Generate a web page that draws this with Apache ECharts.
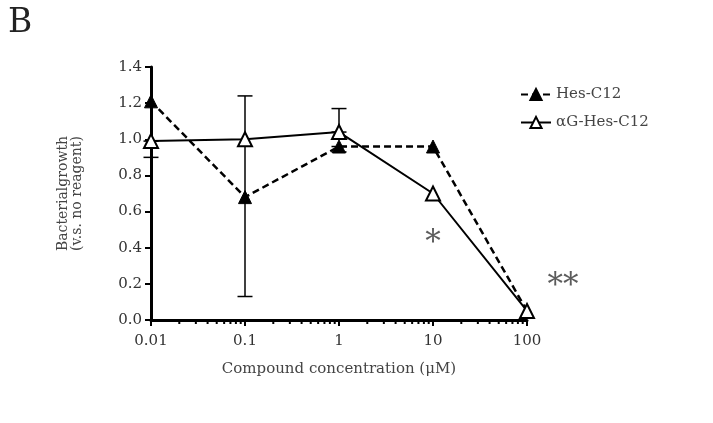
<!DOCTYPE html>
<html>
<head>
<meta charset="utf-8">
<script src="https://cdn.jsdelivr.net/npm/echarts@6/dist/echarts.min.js"></script>
<style>html,body{margin:0;padding:0;background:#fff;}#c{width:713px;height:423px;}</style>
</head>
<body>
<div id="c"></div>
<script>
var concentrations = [0.01, 0.1, 1, 10, 100];
var hesValues = [1.21, 0.68, 0.96, 0.96, 0.05];
var agHesValues = [0.99, 1.00, 1.04, 0.70, 0.05];
// error bars: [x, low, high]
var hesErrors = [[0.1, 0.13, 1.24], [1, 0.93, 0.96]];
var agHesErrors = [[0.01, 0.90, 0.99], [1, 1.04, 1.17]];
var significance = [[10, 0.42, '*'], [100, 0.185, '**']];
var minorTickValues = [];
[0.01, 0.1, 1, 10].forEach(function (d) { for (var k = 2; k <= 9; k++) minorTickValues.push(+(d * k).toPrecision(3)); });

var FONT = 'DejaVu Serif';
var chart = echarts.init(document.getElementById('c'));

function errorRender(params, api) {
  var x = api.value(0), lo = api.value(1), hi = api.value(2);
  var pLo = api.coord([x, lo]), pHi = api.coord([x, hi]);
  var hw = 7.5;
  var st = { stroke: '#000', lineWidth: 1.5 };
  return { type: 'group', children: [
    { type: 'line', shape: { x1: pLo[0], y1: pLo[1], x2: pHi[0], y2: pHi[1] }, style: st },
    { type: 'line', shape: { x1: pLo[0] - hw, y1: pLo[1], x2: pLo[0] + hw, y2: pLo[1] }, style: st },
    { type: 'line', shape: { x1: pHi[0] - hw, y1: pHi[1], x2: pHi[0] + hw, y2: pHi[1] }, style: st }
  ]};
}
function minorRender(params, api) {
  var p = api.coord([api.value(0), 0]);
  return { type: 'line', shape: { x1: p[0], y1: p[1], x2: p[0], y2: p[1] + 4 }, style: { stroke: '#000', lineWidth: 2 } };
}

chart.setOption({
  animation: false,
  backgroundColor: '#fff',
  graphic: [{ type: 'text', left: 8, top: 7, style: { text: 'B', font: '33px "DejaVu Serif"', fill: '#222' } }],
  grid: { left: 151, right: 186, top: 67, bottom: 103, containLabel: false },
  legend: {
    left: 515, top: 82, orient: 'vertical', itemGap: 13, itemWidth: 30, itemHeight: 14,
    textStyle: { fontFamily: FONT, fontSize: 15, color: '#444' },
    data: ['Hes-C12', 'αG-Hes-C12']
  },
  xAxis: {
    type: 'log', logBase: 10, min: 0.01, max: 100,
    name: 'Compound concentration (μM)', nameLocation: 'middle', nameGap: 42,
    nameTextStyle: { fontFamily: FONT, fontSize: 15, color: '#444' },
    axisLine: { lineStyle: { color: '#000', width: 3 } },
    axisTick: { show: true, length: 6, lineStyle: { color: '#000', width: 2 } },
    axisLabel: { fontFamily: FONT, fontSize: 15, color: '#333', margin: 14,
      formatter: function (v) { return String(+v.toPrecision(3)); } },
    splitLine: { show: false }
  },
  yAxis: {
    type: 'value', min: 0, max: 1.4, interval: 0.2,
    name: 'Bacterialgrowth\n(v.s. no reagent)', nameLocation: 'middle', nameGap: 67, nameRotate: 90,
    nameTextStyle: { fontFamily: FONT, fontSize: 14, color: '#444', lineHeight: 14 },
    axisLine: { show: true, lineStyle: { color: '#000', width: 3 } },
    axisTick: { show: true, length: 6, lineStyle: { color: '#000', width: 2 } },
    axisLabel: { fontFamily: FONT, fontSize: 15, color: '#333', margin: 9,
      formatter: function (v) { return v.toFixed(1); } },
    splitLine: { show: false }
  },
  series: [
    { type: 'custom', name: 'minor', renderItem: minorRender, data: minorTickValues.map(function (v) { return [v]; }), silent: true, clip: false, z: 1 },
    { type: 'custom', name: 'errHes', renderItem: errorRender, data: hesErrors, silent: true, z: 2 },
    { type: 'custom', name: 'errAg', renderItem: errorRender, data: agHesErrors, silent: true, z: 2 },
    {
      name: 'Hes-C12', type: 'line', data: concentrations.map(function (c, i) { return [c, hesValues[i]]; }),
      symbol: 'triangle', symbolSize: 13, showSymbol: true,
      lineStyle: { color: '#000', width: 2.5, type: [7, 4] },
      itemStyle: { color: '#000', borderColor: '#000', borderWidth: 1 }, z: 3, clip: false
    },
    {
      name: 'αG-Hes-C12', type: 'line', data: concentrations.map(function (c, i) { return [c, agHesValues[i]]; }),
      symbol: 'triangle', symbolSize: 14, showSymbol: true,
      lineStyle: { color: '#000', width: 2, type: 'solid' },
      itemStyle: { color: '#fff', borderColor: '#000', borderWidth: 2 }, z: 4, clip: false
    },
    {
      type: 'scatter', name: 'sig', data: significance.map(function (s) { return [s[0], s[1], s[2]]; }),
      symbolSize: 0, silent: true, clip: false,
      label: { show: true, position: 'inside', formatter: function (p) { return p.value[2]; },
        fontFamily: FONT, fontSize: 31, color: '#333' },
      labelLayout: function (p) { return p.dataIndex === 1 ? { dx: 36 } : {}; }
    }
  ]
});
</script>
</body>
</html>
